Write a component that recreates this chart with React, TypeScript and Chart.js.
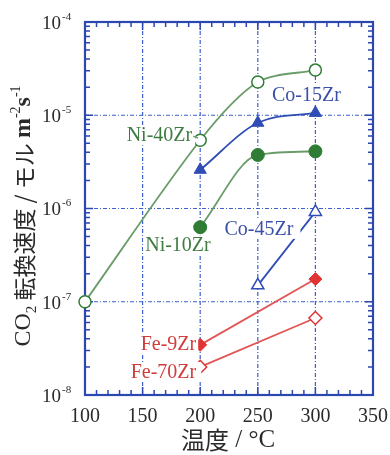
import React, { useEffect, useRef } from 'react';
import { Chart, registerables } from 'chart.js';
Chart.register(...registerables);

// ---- data ----
const xTickValues = [100, 150, 200, 250, 300, 350];
const xTickLabels = ['100', '150', '200', '250', '300', '350'];
const yTickExponents = [-8, -7, -6, -5, -4];

const ni40Temps = [100, 200, 250, 300];
const ni40Rates = [1.0e-7, 5.4e-6, 2.27e-5, 3.05e-5];
const co15Temps = [200, 250, 300];
const co15Rates = [2.6e-6, 8.3e-6, 1.06e-5];
const ni10Temps = [200, 250, 300];
const ni10Rates = [6.3e-7, 3.75e-6, 4.1e-6];
const co45Temps = [250, 300];
const co45Rates = [1.5e-7, 9.2e-7];
const fe9Temps = [200, 300];
const fe9Rates = [3.45e-8, 1.75e-7];
const fe70Temps = [200, 300];
const fe70Rates = [2.0e-8, 6.7e-8];

const seriesNames = ['Ni-40Zr', 'Co-15Zr', 'Ni-10Zr', 'Co-45Zr', 'Fe-9Zr', 'Fe-70Zr'];

const GREEN_LINE = '#6a9c6a';
const GREEN = '#2f7d34';
const GREEN_TXT = '#3f7c42';
const BLUE = '#2f4db5';
const BLUE_TXT = '#3a50a8';
const RED = '#e03434';
const RED_LINE = '#e25555';
const RED_TXT = '#d23c3c';
const AXIS = '#2a48b0';
const GRID = '#3d5fcf';
const TXT = '#2a2a2a';

const SERIF = '"Liberation Serif", "DejaVu Serif", serif';
const CJK = '"Noto Sans CJK JP", sans-serif';

const pts = (xs: number[], ys: number[]) => xs.map((x, i) => ({ x, y: ys[i] }));

// label annotations: [series index, anchor point index, dx, dy, align, color, extra bg right]
const labelSpecs: [number, number, number, number, CanvasTextAlign, string, number][] = [
  [0, 1, -8, -5, 'right', GREEN_TXT, 3],
  [1, 2, -9, -18, 'center', BLUE_TXT, 3],
  [2, 0, -55, 18, 'left', GREEN_TXT, 3],
  [3, 1, -22, 17, 'right', BLUE_TXT, 7],
  [4, 0, -4, -1, 'right', RED_TXT, 2],
  [5, 0, -4, 5, 'right', RED_TXT, 5],
];

const decorPlugin = {
  id: 'decor',
  beforeDatasetsDraw(chart: any) {
    const { ctx, chartArea: a, scales } = chart;
    const xs = scales.x, ys = scales.y;
    ctx.save();
    ctx.strokeStyle = GRID;
    ctx.lineWidth = 1.2;
    ctx.setLineDash([4, 2, 1, 2]);
    xTickValues.forEach((v) => {
      const px = xs.getPixelForValue(v);
      if (px <= a.left + 1 || px >= a.right - 1) return;
      ctx.beginPath(); ctx.moveTo(px, a.top); ctx.lineTo(px, a.bottom); ctx.stroke();
    });
    yTickExponents.forEach((e) => {
      const py = ys.getPixelForValue(Math.pow(10, e));
      if (py <= a.top + 1 || py >= a.bottom - 1) return;
      ctx.beginPath(); ctx.moveTo(a.left, py); ctx.lineTo(a.right, py); ctx.stroke();
    });
    ctx.setLineDash([]);
    // ticks
    ctx.strokeStyle = AXIS;
    ctx.lineWidth = 1.5;
    for (let t = 100; t <= 350; t += 10) {
      const px = xs.getPixelForValue(t);
      const len = t % 50 === 0 ? 8 : 5;
      ctx.beginPath();
      ctx.moveTo(px, a.bottom); ctx.lineTo(px, a.bottom - len);
      ctx.moveTo(px, a.top); ctx.lineTo(px, a.top + len);
      ctx.stroke();
    }
    for (let e = -8; e <= -4; e++) {
      for (let m = 1; m <= 9; m++) {
        if (e === -4 && m > 1) break;
        const py = ys.getPixelForValue(m * Math.pow(10, e));
        const len = m === 1 ? 8 : 5;
        ctx.beginPath();
        ctx.moveTo(a.left, py); ctx.lineTo(a.left + len, py);
        ctx.moveTo(a.right, py); ctx.lineTo(a.right - len, py);
        ctx.stroke();
      }
    }
    ctx.lineWidth = 2.2;
    ctx.strokeRect(a.left, a.top, a.right - a.left, a.bottom - a.top);
    ctx.restore();
  },
  afterDatasetsDraw(chart: any) {
    const { ctx, chartArea: a, scales } = chart;
    const xs = scales.x, ys = scales.y;
    ctx.save();
    // series labels
    ctx.font = `20px ${SERIF}`;
    ctx.textBaseline = 'middle';
    labelSpecs.forEach(([si, pi, dx, dy, align, color, extra]) => {
      const d = chart.data.datasets[si].data[pi];
      const px = xs.getPixelForValue(d.x) + dx;
      const py = ys.getPixelForValue(d.y) + dy;
      const text = seriesNames[si];
      const w = ctx.measureText(text).width;
      let left = px;
      if (align === 'right') left = px - w;
      else if (align === 'center') left = px - w / 2;
      ctx.fillStyle = '#ffffff';
      ctx.fillRect(left - 2, py - 10, w + 2 + extra, 20);
      ctx.fillStyle = color;
      ctx.textAlign = 'left';
      ctx.fillText(text, left, py + 1);
      if (si === 0) {
        ctx.strokeStyle = GREEN_LINE;
        ctx.lineWidth = 1.3;
        ctx.beginPath();
        ctx.moveTo(px + 1, py + 1);
        ctx.lineTo(px + 6, py + 3);
        ctx.stroke();
      }
    });
    // x tick labels
    ctx.fillStyle = TXT;
    ctx.font = `20px ${SERIF}`;
    ctx.textAlign = 'center';
    ctx.textBaseline = 'middle';
    xTickValues.forEach((v, i) => {
      ctx.fillText(xTickLabels[i], xs.getPixelForValue(v), a.bottom + 22);
    });
    // y tick labels
    yTickExponents.forEach((e) => {
      const py = ys.getPixelForValue(Math.pow(10, e));
      ctx.textAlign = 'left';
      ctx.font = `19px ${SERIF}`;
      ctx.fillText('10', 42, py + 2);
      const w = ctx.measureText('10').width;
      ctx.font = `11px ${SERIF}`;
      ctx.fillText('-' + Math.abs(e), 42 + w + 1, py - 5);
    });
    // y axis title
    const segs: { t: string; f: string; dy: number }[] = [
      { t: 'CO', f: `24px ${SERIF}`, dy: 0 },
      { t: '2', f: `15px ${SERIF}`, dy: 8 },
      { t: ' 転換速度 / モル ', f: `23px ${CJK}`, dy: 0 },
      { t: 'm', f: `bold 24px ${SERIF}`, dy: 0 },
      { t: '-2', f: `14px ${SERIF}`, dy: -8 },
      { t: 's', f: `bold 24px ${SERIF}`, dy: 0 },
      { t: '-1', f: `14px ${SERIF}`, dy: -8 },
    ];
    let total = 0;
    segs.forEach((s) => { ctx.font = s.f; total += ctx.measureText(s.t).width; });
    ctx.translate(23, 216);
    ctx.rotate(-Math.PI / 2);
    ctx.textAlign = 'left';
    ctx.textBaseline = 'middle';
    let cx = -total / 2;
    segs.forEach((s) => {
      ctx.font = s.f;
      ctx.fillText(s.t, cx, s.dy + 1);
      cx += ctx.measureText(s.t).width;
    });
    ctx.setTransform(1, 0, 0, 1, 0, 0);
    // x axis title
    const xsegs: { t: string; f: string }[] = [
      { t: '温度', f: `24px ${CJK}` },
      { t: ' / °C', f: `25px ${SERIF}` },
    ];
    let xt = 0;
    xsegs.forEach((s) => { ctx.font = s.f; xt += ctx.measureText(s.t).width; });
    let x0 = 228 - xt / 2;
    xsegs.forEach((s) => {
      ctx.font = s.f;
      ctx.fillText(s.t, x0, 440);
      x0 += ctx.measureText(s.t).width;
    });
    ctx.restore();
  },
};

export default function App() {
  const ref = useRef<HTMLCanvasElement>(null);
  useEffect(() => {
    if (!ref.current) return;
    const chart = new Chart(ref.current, {
      type: 'line',
      data: {
        datasets: [
          {
            label: seriesNames[0], data: pts(ni40Temps, ni40Rates),
            borderColor: GREEN_LINE, borderWidth: 1.8, tension: 0.3,
            pointStyle: 'circle', pointRadius: 6, pointBackgroundColor: '#fff',
            pointBorderColor: GREEN, pointBorderWidth: 1.5, clip: false,
          },
          {
            label: seriesNames[1], data: pts(co15Temps, co15Rates),
            borderColor: BLUE, borderWidth: 1.8, cubicInterpolationMode: 'monotone',
            pointStyle: 'triangle', pointRadius: 7, pointBackgroundColor: BLUE,
            pointBorderColor: BLUE, pointBorderWidth: 1, clip: false,
          },
          {
            label: seriesNames[2], data: pts(ni10Temps, ni10Rates),
            borderColor: GREEN_LINE, borderWidth: 1.8, cubicInterpolationMode: 'monotone',
            pointStyle: 'circle', pointRadius: 6.5, pointBackgroundColor: GREEN,
            pointBorderColor: GREEN, pointBorderWidth: 1, clip: false,
          },
          {
            label: seriesNames[3], data: pts(co45Temps, co45Rates),
            borderColor: BLUE, borderWidth: 1.8, tension: 0,
            pointStyle: 'triangle', pointRadius: 7, pointBackgroundColor: '#fff',
            pointBorderColor: BLUE, pointBorderWidth: 1.5, clip: false,
          },
          {
            label: seriesNames[4], data: pts(fe9Temps, fe9Rates),
            borderColor: RED_LINE, borderWidth: 1.8, tension: 0,
            pointStyle: 'rectRot', pointRadius: 6.5, pointBackgroundColor: RED,
            pointBorderColor: RED, pointBorderWidth: 1, clip: false,
          },
          {
            label: seriesNames[5], data: pts(fe70Temps, fe70Rates),
            borderColor: RED_LINE, borderWidth: 1.8, tension: 0,
            pointStyle: 'rectRot', pointRadius: 6.5, pointBackgroundColor: '#fff',
            pointBorderColor: RED, pointBorderWidth: 1.5, clip: false,
          },
        ],
      },
      options: {
        responsive: false,
        animation: false,
        layout: { padding: { top: 22, right: 17, left: 0, bottom: 0 } },
        plugins: { legend: { display: false }, tooltip: { enabled: false } },
        scales: {
          x: {
            type: 'linear', min: 100, max: 350,
            grid: { display: false }, border: { display: false },
            ticks: { display: false },
            afterFit: (s: any) => { s.height = 60; },
          },
          y: {
            type: 'logarithmic', min: 1e-8, max: 1e-4,
            grid: { display: false }, border: { display: false },
            ticks: { display: false },
            afterFit: (s: any) => { s.width = 85; },
          },
        },
      } as any,
      plugins: [decorPlugin],
    });
    return () => chart.destroy();
  }, []);
  return (
    <div style={{ position: 'fixed', left: 0, top: 0, width: 390, height: 455, background: '#fff' }}>
      <canvas ref={ref} width={390} height={455} style={{ display: 'block' }} />
    </div>
  );
}
